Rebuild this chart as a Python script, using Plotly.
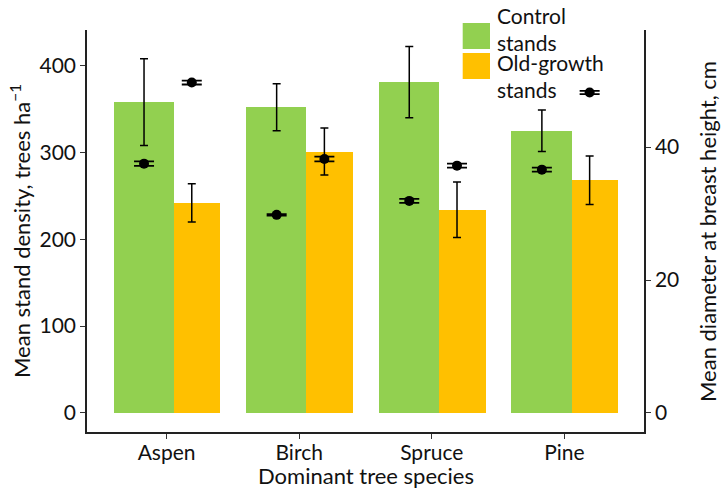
import plotly.graph_objects as go

# Stand density (left axis) and tree diameter (right axis) by dominant species
species = ["Aspen", "Birch", "Spruce", "Pine"]

control_density = [358, 352, 381, 325]
control_density_err = [50, 27, 41, 24]
oldgrowth_density = [242, 301, 234, 268]
oldgrowth_density_err = [22, 27, 32, 28]

control_dbh = [37.5, 29.8, 31.9, 36.6]
control_dbh_err = [0.35, 0.1, 0.3, 0.3]
oldgrowth_dbh = [49.7, 38.2, 37.2, 48.2]
oldgrowth_dbh_err = [0.3, 0.35, 0.3, 0.25]

GREEN = "#92D050"
ORANGE = "#FFC000"
FONT = "Lato"
INK = "#111111"

pos = list(range(len(species)))
pos_control = [p - 0.17 for p in pos]
pos_old = [p + 0.19 for p in pos]

fig = go.Figure()

fig.add_trace(go.Bar(x=pos, y=control_density, offset=-0.40, width=0.455,
                     marker=dict(color=GREEN, line=dict(width=0)),
                     name="Control stands", showlegend=False))
fig.add_trace(go.Bar(x=pos, y=oldgrowth_density, offset=0.055, width=0.35,
                     marker=dict(color=ORANGE, line=dict(width=0)),
                     name="Old-growth stands", showlegend=False))

# Error bars for the density bars
for xs, ys, es in [(pos_control, control_density, control_density_err),
                   (pos_old, oldgrowth_density, oldgrowth_density_err)]:
    fig.add_trace(go.Scatter(
        x=xs, y=ys, mode="markers", marker=dict(size=1, opacity=0),
        error_y=dict(type="data", array=es, visible=True, color="black",
                     thickness=1.5, width=4),
        showlegend=False, hoverinfo="skip"))

# Mean diameter points on the secondary axis
for xs, ys, es in [(pos_control, control_dbh, control_dbh_err),
                   (pos_old, oldgrowth_dbh, oldgrowth_dbh_err)]:
    fig.add_trace(go.Scatter(
        x=xs, y=ys, yaxis="y2", mode="markers",
        marker=dict(size=10, color="black"),
        error_y=dict(type="data", array=es, visible=True, color="black",
                     thickness=1.8, width=10),
        showlegend=False))

axis_common = dict(showline=True, linecolor="#222222", linewidth=1.5,
                   ticks="outside", ticklen=5, tickcolor="#333333", tickwidth=1.2,
                   showgrid=False, zeroline=False, automargin=False,
                   tickfont=dict(family=FONT, size=21, color=INK))

fig.update_layout(
    width=721, height=489,
    margin=dict(l=87, r=77, t=30, b=57),
    plot_bgcolor="white", paper_bgcolor="white",
    bargap=0,
    font=dict(family=FONT, size=21, color=INK),
    xaxis=dict(range=[-0.6, 3.6], tickvals=pos, ticktext=species,
               ticklabelstandoff=-4, **axis_common),
    yaxis=dict(range=[-22, 441], tickvals=[0, 100, 200, 300, 400], **axis_common),
    yaxis2=dict(range=[-2.86, 57.6], tickvals=[0, 20, 40], overlaying="y",
                side="right", **axis_common),
)

# Axis titles
titles = [
    ("Dominant tree species", 0.5, -0.108, 0),
    ("Mean stand density, trees ha<sup>\u22121</sup>", -0.1203, 0.5, -90),
    ("Mean diameter at breast height, cm", 1.1131, 0.5, -90),
]
for text, tx, ty, angle in titles:
    fig.add_annotation(text=text, xref="paper", yref="paper", x=tx, y=ty,
                       xanchor="center", yanchor="middle", textangle=angle,
                       showarrow=False, font=dict(family=FONT, size=22, color=INK))

# Legend drawn as coloured squares with two-line labels
legend_items = [("Control<br>stands", GREEN, 1.0174, 0.9527, 1.0025),
                ("Old-growth<br>stands", ORANGE, 0.9428, 0.8781, 0.885)]
for label, color, top, bottom, ytext in legend_items:
    fig.add_shape(type="rect", xref="paper", yref="paper",
                  x0=0.6745, x1=0.7235, y0=bottom, y1=top,
                  fillcolor=color, line=dict(width=0), layer="above")
    fig.add_annotation(text=label, xref="paper", yref="paper",
                       x=0.7325, y=ytext, xanchor="left", yanchor="middle",
                       align="left", showarrow=False,
                       font=dict(family=FONT, size=21, color=INK))

fig.write_html("out.html")
